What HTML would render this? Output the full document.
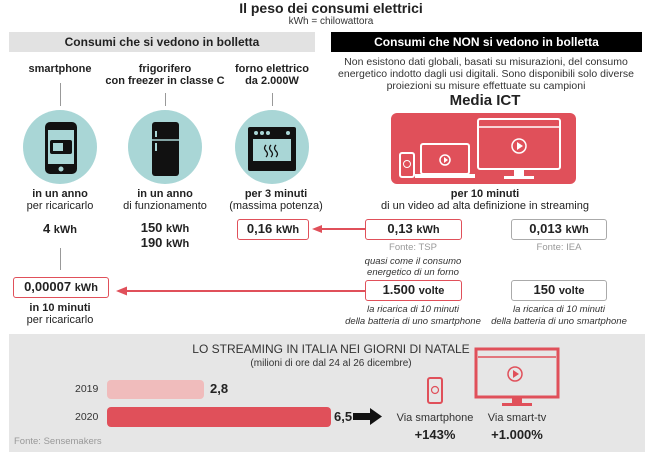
<!DOCTYPE html>
<html><head><meta charset="utf-8"><style>
*{margin:0;padding:0;box-sizing:border-box}
body{width:662px;height:470px;background:#fff;position:relative;overflow:hidden;font-family:"Liberation Sans",sans-serif;color:#222}
.a{position:absolute;white-space:nowrap}
.c{transform:translateX(-50%);text-align:center}
.b{font-weight:bold}
.box{position:absolute;border:1.5px solid #e0505a;border-radius:3px;background:#fff;text-align:center;font-weight:bold;font-size:13px;line-height:18px}
.gbox{border-color:#aaa}
.box small{font-size:11px}
.it{font-style:italic;font-size:9.5px;color:#333}
.vl{position:absolute;width:1px;background:#999}
.circ{position:absolute;width:74px;height:74px;border-radius:50%;background:#a9d6d6}
</style></head><body>
<div class="a c b" style="left:331px;top:0px;font-size:14px">Il peso dei consumi elettrici</div>
<div class="a c" style="left:331px;top:16px;font-size:10px;color:#333">kWh = chilowattora</div>

<div class="a b" style="left:9px;top:32px;width:306px;height:20px;background:#e2e2e2;text-align:center;font-size:12px;line-height:20px">Consumi che si vedono in bolletta</div>
<div class="a b" style="left:331px;top:32px;width:311px;height:20px;background:#000;color:#fff;text-align:center;font-size:12px;line-height:20px">Consumi che NON si vedono in bolletta</div>
<div class="a c" style="left:486px;top:56px;font-size:10.5px;line-height:12px;color:#333">Non esistono dati globali, basati su misurazioni, del consumo<br>energetico indotto dagli usi digitali. Sono disponibili solo diverse<br>proiezioni su misure effettuate su campioni</div>
<div class="a c b" style="left:485px;top:92px;font-size:15px">Media ICT</div>

<svg class="a" style="left:391px;top:113px" width="185" height="71" viewBox="0 0 185 71">
<rect width="185" height="71" rx="6" fill="#e0505a"/>
<rect x="87" y="6" width="82" height="50" rx="2" fill="none" stroke="#fff" stroke-width="2"/>
<line x1="87" y1="14" x2="169" y2="14" stroke="#fff" stroke-width="1.5"/>
<circle cx="128" cy="33" r="7" fill="none" stroke="#fff" stroke-width="1.5"/><path d="M126 29v8l6-4z" fill="#fff"/>
<rect x="123" y="56" width="10" height="8" fill="#fff"/><rect x="113" y="63" width="30" height="3" fill="#fff"/>
<rect x="30" y="31" width="48" height="30" rx="2" fill="none" stroke="#fff" stroke-width="2"/>
<rect x="24" y="61" width="60" height="4" fill="#fff"/>
<circle cx="54" cy="47" r="5" fill="none" stroke="#fff" stroke-width="1.5"/><path d="M53 44v6l4-3z" fill="#fff"/>
<rect x="9" y="40" width="14" height="24" rx="2" fill="none" stroke="#fff" stroke-width="2"/>
<circle cx="16" cy="51" r="3.5" fill="none" stroke="#fff" stroke-width="1"/>
</svg>

<div class="a c b" style="left:60px;top:63px;font-size:11px">smartphone</div>
<div class="a c b" style="left:165px;top:63px;font-size:11px;line-height:12px">frigorifero<br>con freezer in classe C</div>
<div class="a c b" style="left:272px;top:63px;font-size:11px;line-height:12px">forno elettrico<br>da 2.000W</div>
<div class="vl" style="left:60px;top:83px;height:23px"></div>
<div class="vl" style="left:165px;top:93px;height:13px"></div>
<div class="vl" style="left:272px;top:93px;height:13px"></div>

<div class="circ" style="left:23px;top:110px"></div>
<div class="circ" style="left:128px;top:110px"></div>
<div class="circ" style="left:235px;top:110px"></div>
<svg class="a" style="left:0;top:110px" width="330" height="75">
<rect x="45" y="12" width="32" height="52" rx="5" fill="#111"/><rect x="48" y="20" width="26" height="34" fill="#a9d6d6"/>
<rect x="50" y="30" width="22" height="14" rx="2" fill="#111"/><rect x="53" y="33" width="10" height="8" fill="#a9d6d6"/>
<circle cx="61" cy="59" r="2.5" fill="#a9d6d6"/>
<rect x="152" y="12" width="27" height="54" rx="3" fill="#111"/><line x1="152" y1="30" x2="179" y2="30" stroke="#a9d6d6" stroke-width="1.5"/>
<rect x="155" y="21" width="2" height="6" fill="#a9d6d6"/><rect x="155" y="33" width="2" height="8" fill="#a9d6d6"/>
<rect x="248" y="17" width="48" height="44" rx="2" fill="#111"/><rect x="253" y="29" width="38" height="22" fill="#a9d6d6"/>
<circle cx="256" cy="23" r="2" fill="#a9d6d6"/><circle cx="262" cy="23" r="2" fill="#a9d6d6"/><circle cx="268" cy="23" r="2" fill="#a9d6d6"/><circle cx="288" cy="23" r="2" fill="#a9d6d6"/>
<path d="M266 35q-3 3 0 6t0 6M271 35q-3 3 0 6t0 6M276 35q-3 3 0 6t0 6" stroke="#111" stroke-width="1.3" fill="none"/>
</svg>

<div class="a c" style="left:60px;top:188px;font-size:11px;line-height:12px"><b>in un anno</b><br>per ricaricarlo</div>
<div class="a c" style="left:165px;top:188px;font-size:11px;line-height:12px"><b>in un anno</b><br>di funzionamento</div>
<div class="a c" style="left:276px;top:188px;font-size:11px;line-height:12px"><b>per 3 minuti</b><br>(massima potenza)</div>
<div class="a c" style="left:485px;top:188px;font-size:11px;line-height:12px"><b>per 10 minuti</b><br>di un video ad alta definizione in streaming</div>

<div class="a c b" style="left:60px;top:221px;font-size:13px">4 <small style="font-size:11px">kWh</small></div>
<div class="a c b" style="left:165px;top:221px;font-size:13px;line-height:14px">150 <small style="font-size:11px">kWh</small><br>190 <small style="font-size:11px">kWh</small></div>
<div class="box" style="left:237px;top:219px;width:72px;height:21px">0,16 <small>kWh</small></div>
<div class="box" style="left:365px;top:219px;width:97px;height:21px">0,13 <small>kWh</small></div>
<div class="box gbox" style="left:511px;top:219px;width:96px;height:21px">0,013 <small>kWh</small></div>
<svg class="a" style="left:0;top:0" width="662" height="470">
<line x1="365" y1="229" x2="320" y2="229" stroke="#e0505a" stroke-width="2"/><path d="M312 229l10-4v8z" fill="#e0505a"/>
<line x1="365" y1="291" x2="125" y2="291" stroke="#e0505a" stroke-width="2"/><path d="M116 291l11-4.5v9z" fill="#e0505a"/>
<line x1="60.5" y1="248" x2="60.5" y2="270" stroke="#999"/>
</svg>
<div class="a c" style="left:413px;top:242px;font-size:9.5px;color:#999">Fonte: TSP</div>
<div class="a c" style="left:559px;top:242px;font-size:9.5px;color:#999">Fonte: IEA</div>
<div class="a c it" style="left:413px;top:256px;line-height:11px">quasi come il consumo<br>energetico di un forno</div>
<div class="box" style="left:13px;top:277px;width:96px;height:21px">0,00007 <small>kWh</small></div>
<div class="box" style="left:365px;top:280px;width:97px;height:21px">1.500 <small>volte</small></div>
<div class="box gbox" style="left:511px;top:280px;width:96px;height:21px">150 <small>volte</small></div>
<div class="a c" style="left:60px;top:302px;font-size:11px;line-height:12px"><b>in 10 minuti</b><br>per ricaricarlo</div>
<div class="a c it" style="left:413px;top:304px;line-height:12px">la ricarica di 10 minuti<br>della batteria di uno smartphone</div>
<div class="a c it" style="left:559px;top:304px;line-height:12px">la ricarica di 10 minuti<br>della batteria di uno smartphone</div>

<div class="a" style="left:9px;top:334px;width:636px;height:118px;background:#e6e6e6"></div>
<div class="a c" style="left:331px;top:342px;font-size:12px;color:#333">LO STREAMING IN ITALIA NEI GIORNI DI NATALE</div>
<div class="a c" style="left:331px;top:358px;font-size:10px;color:#333">(milioni di ore dal 24 al 26 dicembre)</div>
<div class="a" style="left:75px;top:383px;font-size:10.5px;color:#333">2019</div>
<div class="a" style="left:107px;top:380px;width:97px;height:19px;border-radius:4px;background:#f0bcbc"></div>
<div class="a b" style="left:210px;top:381px;font-size:13px">2,8</div>
<div class="a" style="left:75px;top:411px;font-size:10.5px;color:#333">2020</div>
<div class="a" style="left:107px;top:407px;width:224px;height:20px;border-radius:4px;background:#e0505a"></div>
<div class="a b" style="left:334px;top:409px;font-size:13px">6,5</div>
<svg class="a" style="left:0;top:0" width="662" height="470">
<rect x="353" y="413" width="18" height="7" fill="#111"/><path d="M370 408l12 8.5-12 8.5z" fill="#111"/>
<rect x="428" y="378" width="14" height="25" rx="2" fill="none" stroke="#e0505a" stroke-width="2"/>
<circle cx="435" cy="390" r="3.5" fill="none" stroke="#e0505a" stroke-width="1.2"/>
<rect x="476" y="349" width="82" height="48" fill="none" stroke="#e0505a" stroke-width="3"/>
<line x1="478" y1="357" x2="556" y2="357" stroke="#e0505a" stroke-width="1.5"/>
<circle cx="515" cy="374" r="7" fill="none" stroke="#e0505a" stroke-width="1.5"/><path d="M513 370v8l6-4z" fill="#e0505a"/>
<rect x="512" y="397" width="10" height="7" fill="#e0505a"/><rect x="502" y="403" width="30" height="3" fill="#e0505a"/>
</svg>
<div class="a c" style="left:435px;top:412px;font-size:11px;color:#333">Via smartphone</div>
<div class="a c b" style="left:435px;top:427px;font-size:13px">+143%</div>
<div class="a c" style="left:517px;top:412px;font-size:11px;color:#333">Via smart-tv</div>
<div class="a c b" style="left:517px;top:427px;font-size:13px">+1.000%</div>
<div class="a" style="left:14px;top:436px;font-size:9.5px;color:#999">Fonte: Sensemakers</div>
</body></html>
